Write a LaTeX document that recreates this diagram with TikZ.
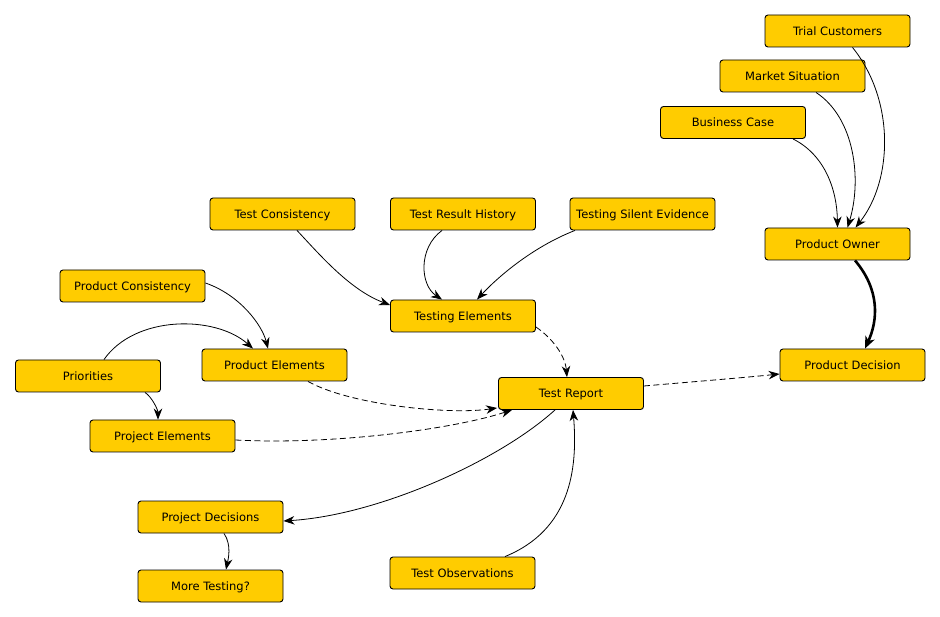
\documentclass[tikz,border=0pt]{standalone}
\usepackage{fontspec}
\setmainfont{DejaVu Sans}
\usetikzlibrary{arrows.meta}
\definecolor{boxfill}{HTML}{FFCC00}
\begin{document}
\begin{tikzpicture}[x=1pt,y=-1pt,
  box/.style={draw=black,line width=0.9pt,fill=boxfill,rounded corners=3pt,
    minimum width=145pt,minimum height=32pt,inner sep=0pt,text height=10pt,text depth=1pt,
    font=\fontsize{11.5}{13}\selectfont},
  conn/.style={line width=0.8pt,-{Stealth[length=11pt,width=8.5pt,inset=3.5pt]}},
  dconn/.style={conn,dash pattern=on 6pt off 3.5pt},
  thickconn/.style={line width=2.6pt,-{Stealth[length=12pt,width=10pt,inset=3.5pt]}}]
\useasboundingbox[fill=white] (0,0) rectangle (940,617);
\node[box] (TC) at (837.5,31) {Trial Customers};
\node[box] (MS) at (792.5,76) {Market Situation};
\node[box] (BC) at (733,122.5) {Business Case};
\node[box] (PO) at (837.5,244) {Product Owner};
\node[box] (PD) at (852.5,365) {Product Decision};
\node[box] (TCons) at (282.5,214) {Test Consistency};
\node[box] (TRH) at (463,214) {Test Result History};
\node[box] (TSE) at (642.5,214) {Testing Silent Evidence};
\node[box] (TE) at (463,316) {Testing Elements};
\node[box] (TR) at (571,393.5) {Test Report};
\node[box] (PC) at (132.5,286) {Product Consistency};
\node[box] (PE) at (274.5,365) {Product Elements};
\node[box] (Pri) at (88,376) {Priorities};
\node[box] (PjE) at (162.5,436) {Project Elements};
\node[box] (PjD) at (210.5,517) {Project Decisions};
\node[box] (MT) at (210.5,586) {More Testing?};
\node[box] (TO) at (462.5,573) {Test Observations};

\draw[conn] ([xshift=15pt]TC.south) .. controls (895,100) and (893,180) .. ([xshift=18pt]PO.north);
\draw[conn] ([xshift=23.5pt]MS.south) .. controls (855,118) and (862,180) .. ([xshift=10pt]PO.north);
\draw[conn] ([xshift=60pt]BC.south) .. controls (825,155) and (837,190) .. ([xshift=0pt]PO.north);
\draw[thickconn] ([xshift=17.5pt]PO.south) .. controls (880,290) and (878,320) .. ([xshift=12.5pt]PD.north);
\draw[dconn] ([yshift=7.5pt]TR.east) .. controls (690,382) and (740,378) .. ([yshift=-9pt]PD.west);
\draw[dconn] ([yshift=-11pt]TE.east) .. controls (552,338) and (565,355) .. ([xshift=-4pt]TR.north);
\draw[conn] ([xshift=14.5pt]TCons.south) .. controls (320,255) and (350,290) .. ([yshift=11pt]TE.west);
\draw[conn] ([xshift=-21pt]TRH.south) .. controls (418,248) and (420,285) .. ([xshift=-21pt]TE.north);
\draw[conn] ([xshift=-67.5pt]TSE.south) .. controls (530,248) and (495,280) .. ([xshift=14pt]TE.north);
\draw[conn] ([yshift=3pt]PC.east) .. controls (240,295) and (262,325) .. ([xshift=-6.5pt]PE.north);
\draw[conn] ([xshift=16pt]Pri.north) .. controls (135,315) and (215,315) .. ([xshift=-21.5pt]PE.north);
\draw[conn] ([xshift=57pt]Pri.south) .. controls (152,397) and (158,410) .. ([xshift=-4.5pt]PjE.north);
\draw[dconn] ([xshift=33.5pt]PE.south) .. controls (350,405) and (450,415) .. ([xshift=-1pt,yshift=2pt]TR.south west);
\draw[dconn] ([yshift=-4pt]PjE.east) .. controls (330,445) and (450,430) .. ([xshift=14pt]TR.south west);
\draw[conn] ([xshift=-16pt]TR.south) .. controls (500,460) and (380,515) .. ([yshift=-4pt]PjD.east);
\draw[conn] ([xshift=42.5pt]TO.north) .. controls (570,530) and (578,470) .. ([xshift=2pt]TR.south);
\draw[conn] ([xshift=13.5pt]PjD.south) .. controls (232,545) and (228,560) .. ([xshift=15.5pt]MT.north);
\end{tikzpicture}
\end{document}
